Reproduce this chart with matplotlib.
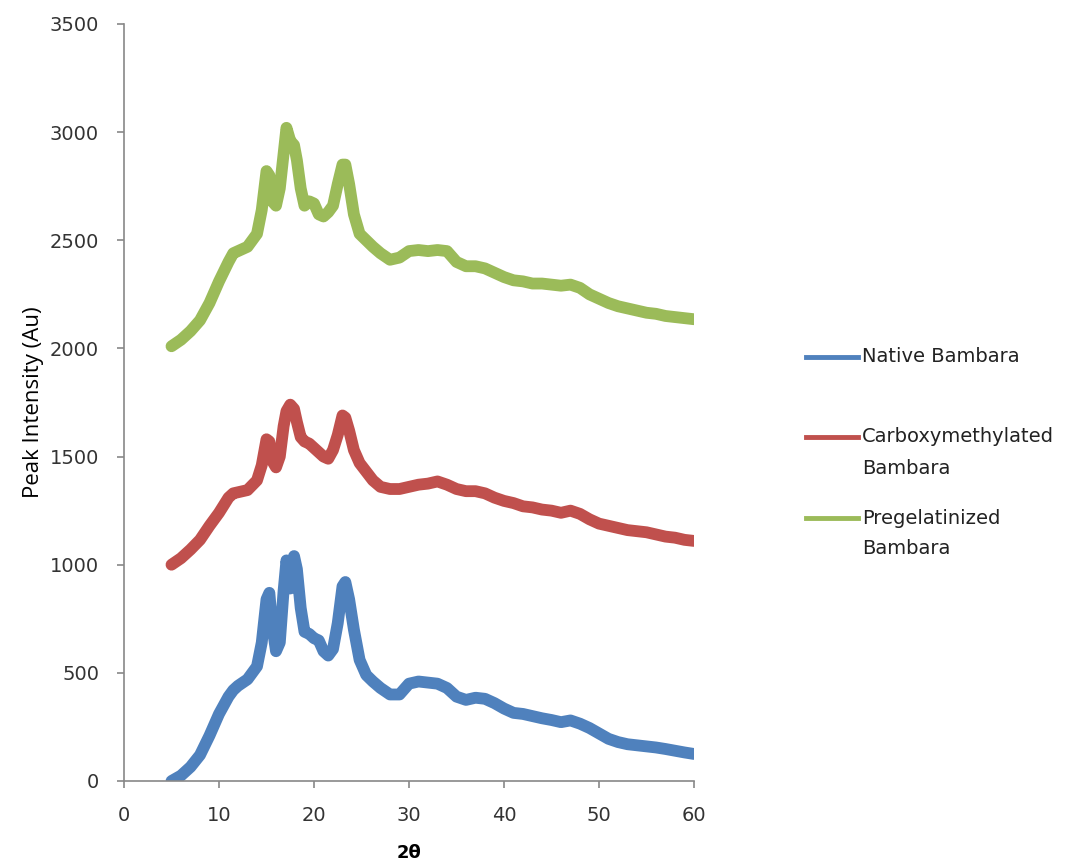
import matplotlib
matplotlib.use("Agg")
import matplotlib.pyplot as plt
from matplotlib.lines import Line2D

# 2 theta positions (shared by all three patterns), finer around the peaks
two_theta = [5, 6, 7, 8, 9, 10, 11, 11.5, 12, 13, 14, 14.5, 15, 15.3, 15.6, 16,
             16.4, 16.8, 17.1, 17.5, 17.9, 18.2, 18.6, 19, 19.5, 20, 20.5, 21,
             21.5, 22, 22.5, 23, 23.3, 23.7, 24.2, 24.8, 25.5, 26.2, 27, 28, 29,
             30, 31, 32, 33, 34, 35, 36, 37, 38, 39, 40, 41, 42, 43, 44, 45, 46,
             47, 48, 49, 50, 51, 52, 53, 54, 55, 56, 57, 58, 59, 60]

native = [0, 25, 65, 120, 210, 310, 390, 420, 440, 470, 530, 640, 840, 870, 720, 600,
          640, 880, 1020, 890, 1040, 980, 800, 690, 680, 660, 650, 600,
          580, 610, 730, 900, 920, 840, 700, 560, 490, 460, 430, 400, 400,
          450, 460, 455, 450, 430, 390, 375, 385, 380, 360, 335, 315, 310, 300, 290, 282, 272,
          280, 265, 245, 220, 195, 180, 170, 165, 160, 155, 148, 140, 132, 125]

carboxy = [1000, 1030, 1070, 1115, 1180, 1240, 1310, 1330, 1335, 1345, 1390, 1460, 1580, 1570, 1480, 1450,
           1500, 1640, 1710, 1740, 1720, 1660, 1590, 1570, 1560, 1540, 1520, 1500,
           1490, 1530, 1600, 1690, 1680, 1620, 1530, 1470, 1430, 1390, 1360, 1350, 1350,
           1360, 1370, 1375, 1385, 1370, 1350, 1340, 1340, 1330, 1310, 1295, 1285, 1270, 1265, 1255, 1250, 1240,
           1250, 1235, 1210, 1190, 1180, 1170, 1160, 1155, 1150, 1140, 1130, 1125, 1115, 1110]

pregel = [2010, 2040, 2080, 2130, 2210, 2310, 2400, 2440, 2450, 2470, 2530, 2640, 2820, 2800, 2680, 2660,
          2740, 2900, 3020, 2960, 2940, 2870, 2740, 2660, 2680, 2670, 2620, 2610,
          2630, 2660, 2760, 2850, 2850, 2760, 2620, 2530, 2500, 2470, 2440, 2410, 2420,
          2450, 2455, 2450, 2455, 2450, 2400, 2380, 2380, 2370, 2350, 2330, 2315, 2310, 2300, 2300, 2295, 2290,
          2295, 2280, 2250, 2230, 2210, 2195, 2185, 2175, 2165, 2160, 2150, 2145, 2140, 2135]

series_names = [["Native Bambara"], ["Carboxymethylated", "Bambara"], ["Pregelatinized", "Bambara"]]
colours = ["#4F81BD", "#C0504D", "#9BBB59"]

W, H = 1081, 867
fig = plt.figure(figsize=(W / 100, H / 100), dpi=100)
ax = fig.add_axes([124 / W, 1 - 781 / H, 570 / W, 757 / H])

for ys, c in zip([native, carboxy, pregel], colours):
    ax.plot(two_theta, ys, color=c, lw=8.5, solid_capstyle="round", solid_joinstyle="round")

ax.set_xlim(0, 60)
ax.set_ylim(0, 3500)
ax.set_xticks(range(0, 61, 10))
ax.set_yticks(range(0, 3501, 500))
for s in ["top", "right"]:
    ax.spines[s].set_visible(False)
for s in ["left", "bottom"]:
    ax.spines[s].set_color("#888888")
    ax.spines[s].set_linewidth(1.2)
ax.tick_params(colors="#888888", labelcolor="#333333", labelsize=14, length=5, width=1.2, pad=13)

ax.set_xlabel("2θ", fontsize=13, fontweight="bold", labelpad=14)
ax.set_ylabel("Peak Intensity (Au)", fontsize=16, family="Open Sans", labelpad=4)

# legend drawn by hand, Excel style (handle level with the first text line)
rows = [357, 437, 518]
for names, c, y in zip(series_names, colours, rows):
    fy = 1 - y / H
    fig.add_artist(Line2D([806 / W, 858 / W], [fy, fy], color=c, lw=3.5,
                          transform=fig.transFigure))
    for i, line in enumerate(names):
        fig.text(862 / W, 1 - (y + i * 31) / H, line, fontsize=14, color="#222222",
                 va="center", ha="left")

fig.savefig("out.png", dpi=100)
